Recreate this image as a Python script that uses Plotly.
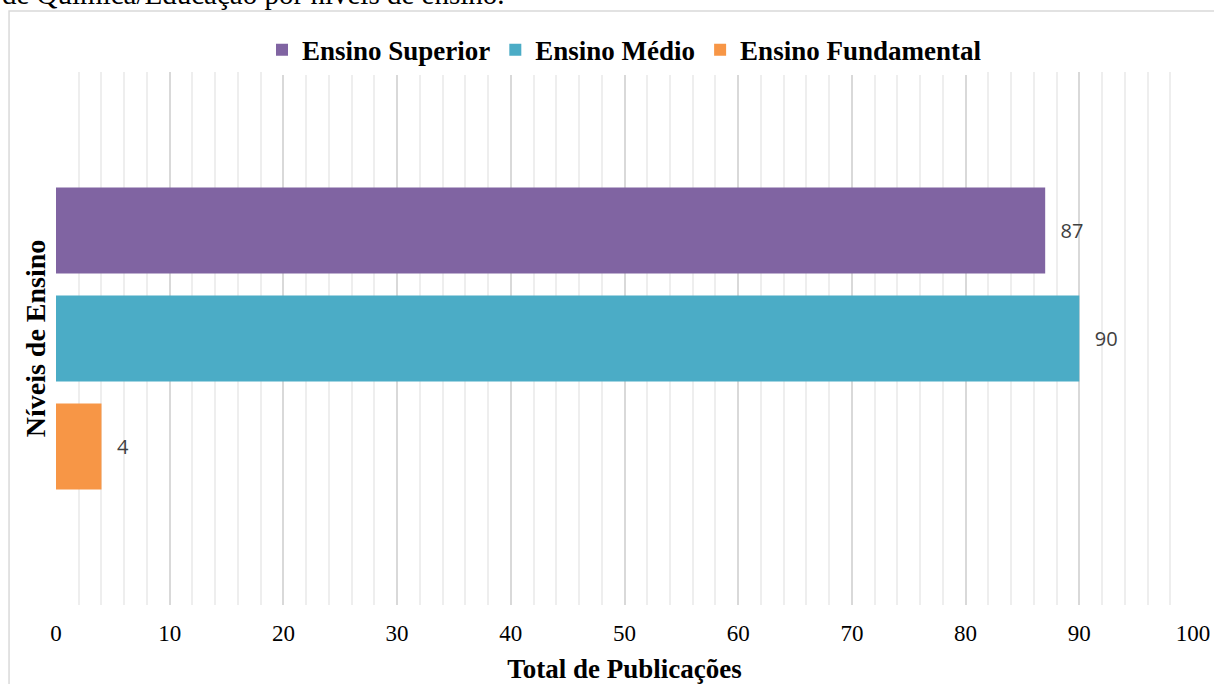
import plotly.graph_objects as go

# Publication counts per teaching level
levels = ["Ensino Superior", "Ensino Médio", "Ensino Fundamental"]
totals = [87, 90, 4]
colors = ["#8064A2", "#4BACC6", "#F79646"]
group = ["Níveis"]

x_ticks = [0, 10, 20, 30, 40, 50, 60, 70, 80, 90, 100]

serif = "Liberation Serif, Times New Roman, serif"
PAD = "\u00a0\u00a0\u200a"

fig = go.Figure()
# Horizontal grouped bars are stacked bottom-up, so add the last level first
for name, val, col in reversed(list(zip(levels, totals, colors))):
    fig.add_trace(go.Bar(
        y=group, x=[val], name=name, orientation="h",
        marker=dict(color=col, line=dict(width=0)),
        text=[val], texttemplate=PAD + "%{x}", textposition="outside",
        textfont=dict(family="Open Sans, DejaVu Sans, sans-serif", size=20, color="#404040"),
        cliponaxis=False,
    ))

fig.update_layout(
    width=1214, height=684,
    margin=dict(l=56, r=21, t=72, b=79),
    paper_bgcolor="white", plot_bgcolor="white",
    barmode="group", bargap=0.392, bargroupgap=0.204,
    showlegend=True,
    legend=dict(
        orientation="h", x=0.5, xanchor="center", y=1.041, yanchor="middle",
        traceorder="reversed",
        font=dict(family=serif, size=27, color="black", weight="bold"),
        itemwidth=30,
    ),
    xaxis=dict(
        range=[0, 100], tickvals=x_ticks, showline=False, zeroline=False,
        automargin=False,
        showgrid=True, gridcolor="#d9d9d9", gridwidth=1.5,
        minor=dict(dtick=2, showgrid=True, gridcolor="#eeeeee", gridwidth=1.5),
        tickfont=dict(family=serif, size=23, color="black"),
        ticks="", ticklabelstandoff=12,
        title=dict(text="<b>Total de Publicações</b>", standoff=15,
                   font=dict(family=serif, size=27, color="black")),
    ),
    yaxis=dict(
        showticklabels=False, showgrid=False, zeroline=False, showline=False,
        automargin=False,
        title=dict(text="<b>Níveis de Ensino</b>", standoff=1,
                   font=dict(family=serif, size=28, color="black")),
    ),
    font=dict(family=serif),
)

# Frame around the chart area
fig.add_shape(type="rect", xref="paper", yref="paper",
              x0=-0.0413, x1=1.2, y0=-0.3, y1=1.1144,
              line=dict(color="#d9d9d9", width=1.5), fillcolor="rgba(0,0,0,0)",
              layer="below")

# Caption text running into the top edge of the page
fig.add_annotation(xref="paper", yref="paper", x=-0.0493, y=1.112,
                   xanchor="left", yanchor="bottom",
                   text="de Química/Educação por níveis de ensino.",
                   showarrow=False,
                   font=dict(family=serif, size=29, color="black"))

fig.write_html("out.html")
